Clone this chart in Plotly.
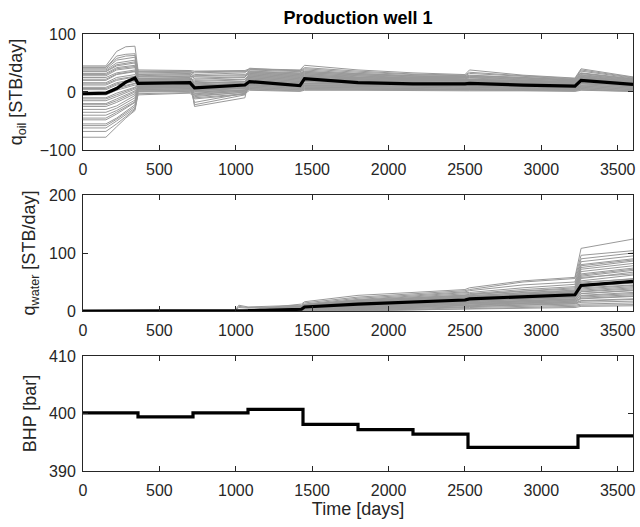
import plotly.graph_objects as go

# ---------------------------------------------------------------------------
# Data: ensemble of production responses for well 1 and the ensemble mean
# ---------------------------------------------------------------------------
days_oil = [0, 150, 220, 280, 340, 360, 700, 730, 1060, 1090, 1420, 1450,
            1800, 2160, 2500, 2530, 2880, 3220, 3260, 3600]

oil_members = [
    [45, 45, 70, 78, 79, 38, 37, 36, 37, 40, 38, 46, 38, 33, 30, 38, 29, 24, 40, 26],
    [42, 42, 62, 65, 66, 35, 35, 30, 33, 41, 36, 40, 34, 30, 28, 32, 27, 22, 36, 24],
    [40, 40, 55, 58, 60, 33, 34, 22, 25, 38, 35, 38, 32, 28, 27, 29, 25, 21, 33, 23],
    [38, 38, 50, 53, 55, 30, 32, 35, 36, 36, 33, 36, 30, 27, 26, 27, 24, 20, 32, 22],
    [35, 35, 45, 48, 50, 28, 30, 10, 14, 34, 31, 34, 28, 25, 24, 25, 22, 19, 30, 21],
    [32, 32, 42, 44, 46, 26, 27, 26, 28, 32, 29, 32, 26, 24, 22, 23, 21, 18, 28, 20],
    [28, 28, 38, 40, 42, 24, 25, 15, 18, 30, 27, 30, 25, 22, 21, 22, 19, 16, 26, 19],
    [25, 25, 33, 36, 38, 22, 23, -25, -10, 28, 25, 28, 23, 21, 20, 21, 18, 15, 25, 18],
    [20, 20, 30, 33, 35, 20, 21, 12, 15, 26, 23, 26, 22, 20, 19, 20, 17, 14, 24, 17],
    [16, 16, 25, 28, 30, 18, 19, 5, 9, 24, 21, 24, 20, 19, 18, 19, 16, 13, 22, 16],
    [12, 12, 20, 23, 26, 17, 18, 16, 18, 22, 19, 22, 19, 17, 16, 17, 15, 12, 21, 15],
    [8, 8, 16, 19, 22, 15, 16, -22, -5, 20, 17, 20, 17, 16, 15, 16, 14, 11, 19, 14],
    [4, 4, 12, 15, 18, 14, 15, 3, 7, 18, 15, 18, 16, 15, 14, 14, 13, 10, 18, 13],
    [0, 0, 8, 12, 15, 12, 13, 8, 11, 16, 13, 17, 15, 14, 13, 13, 12, 9, 17, 12],
    [-5, -5, 3, 8, 12, 11, 12, -5, 2, 15, 12, 15, 14, 13, 12, 12, 11, 8, 15, 11],
    [-10, -10, -2, 3, 8, 10, 11, 2, 6, 13, 11, 14, 13, 12, 11, 11, 10, 7, 14, 10],
    [-15, -15, -8, -2, 5, 9, 10, -18, -2, 12, 10, 12, 12, 11, 10, 10, 9, 6, 12, 9],
    [-20, -20, -12, -5, 2, 8, 9, 6, 9, 11, 9, 11, 11, 10, 9, 9, 8, 6, 11, 8],
    [-25, -25, -18, -10, -3, 7, 8, -2, 3, 10, 8, 10, 10, 9, 8, 8, 7, 5, 10, 7],
    [-30, -30, -24, -15, -6, 6, 7, 1, 4, 9, 7, 9, 9, 8, 7, 7, 6, 5, 9, 6],
    [-35, -35, -28, -19, -10, 5, 6, -8, 0, 8, 6, 8, 8, 7, 6, 6, 5, 4, 8, 5],
    [-40, -40, -32, -23, -14, 4, 5, 0, 3, 7, 5, 7, 7, 6, 5, 5, 5, 4, 7, 4],
    [-48, -48, -38, -28, -18, 2, 3, -3, 1, 6, 4, 6, 6, 5, 4, 4, 4, 3, 6, 3],
    [-55, -55, -45, -33, -22, 0, 1, -6, -1, 5, 3, 5, 5, 4, 4, 4, 3, 3, 5, 2],
    [-62, -62, -50, -39, -28, -3, -1, 4, 6, 4, 2, 4, 4, 3, 3, 3, 3, 2, 4, 1],
    [-78, -78, -60, -45, -32, -5, -2, -10, -3, 3, 1, 3, 3, 2, 2, 2, 2, 1, 3, 1],
    [43, 43, 58, 62, 63, 36, 36, 33, 35, 39, 37, 42, 36, 31, 29, 34, 28, 23, 38, 25],
    [36, 36, 47, 50, 52, 31, 31, 28, 30, 35, 32, 35, 31, 28, 27, 28, 25, 21, 32, 22],
    [30, 30, 40, 42, 44, 27, 28, 24, 26, 33, 30, 33, 29, 26, 25, 26, 23, 19, 29, 21],
    [22, 22, 31, 34, 36, 23, 24, 20, 22, 31, 28, 31, 27, 24, 23, 24, 21, 17, 27, 19],
    [14, 14, 22, 25, 27, 21, 22, 18, 21, 29, 26, 29, 25, 23, 22, 22, 20, 16, 26, 18],
    [6, 6, 14, 17, 20, 19, 20, 14, 17, 27, 24, 27, 24, 22, 21, 21, 19, 15, 24, 17],
    [-2, -2, 5, 10, 14, 16, 17, 12, 15, 25, 22, 25, 23, 21, 20, 20, 18, 14, 23, 16],
    [-12, -12, -5, 1, 7, 13, 14, 10, 13, 23, 20, 23, 21, 19, 18, 18, 17, 13, 21, 15],
    [-22, -22, -15, -7, 0, 10, 11, 7, 10, 21, 18, 21, 19, 18, 17, 17, 16, 12, 20, 14],
    [-45, -45, -35, -26, -17, 3, 4, -12, -4, 19, 16, 19, 18, 17, 16, 16, 15, 11, 19, 13],
    [-68, -68, -55, -42, -30, 1, 2, 5, 8, 14, 12, 14, 14, 13, 12, 12, 11, 9, 16, 11],
    [-58, -58, -47, -36, -25, 8, 9, 4, 7, 12, 10, 12, 12, 12, 11, 11, 10, 8, 14, 10],
]
oil_mean = [-3, -2, 6, 17, 24, 15, 16, 7, 12, 18, 11, 23, 16, 14, 14, 15, 12, 10, 20, 13]

days_water = [0, 990, 1020, 1080, 1430, 1450, 1800, 2160, 2500, 2530,
              2880, 3220, 3260, 3600]

water_members = [
    [0, 0, 0, 2, 12, 16, 27, 32, 37, 40, 52, 58, 108, 124],
    [0, 0, 10, 7, 10, 14, 24, 30, 35, 37, 50, 56, 96, 104],
    [0, 0, 0, 1, 9, 12, 22, 28, 33, 35, 45, 50, 90, 100],
    [0, 0, 0, 0, 8, 11, 20, 26, 31, 32, 40, 46, 85, 95],
    [0, 0, 6, 5, 7, 10, 19, 24, 29, 30, 37, 42, 80, 90],
    [0, 0, 0, 0, 6, 9, 18, 23, 27, 28, 34, 38, 75, 86],
    [0, 0, 0, 0, 5, 8, 16, 21, 25, 26, 32, 36, 72, 82],
    [0, 0, 0, 0, 5, 8, 15, 20, 24, 25, 30, 34, 68, 78],
    [0, 0, 0, 0, 4, 7, 14, 19, 23, 24, 28, 32, 64, 74],
    [0, 0, 0, 0, 4, 7, 13, 18, 22, 23, 27, 30, 60, 70],
    [0, 0, 0, 0, 3, 6, 12, 17, 21, 22, 26, 29, 56, 67],
    [0, 0, 0, 0, 3, 6, 12, 16, 20, 21, 25, 28, 52, 62],
    [0, 0, 0, 0, 2, 5, 11, 15, 19, 20, 24, 27, 48, 56],
    [0, 0, 0, 0, 2, 5, 10, 14, 18, 19, 23, 26, 45, 52],
    [0, 0, 0, 0, 2, 4, 9, 13, 17, 18, 22, 25, 42, 48],
    [0, 0, 0, 0, 1, 4, 9, 13, 16, 17, 21, 24, 40, 45],
    [0, 0, 0, 0, 1, 3, 8, 12, 15, 16, 20, 23, 36, 42],
    [0, 0, 0, 0, 1, 3, 7, 11, 14, 15, 18, 21, 33, 38],
    [0, 0, 0, 0, 0, 2, 6, 10, 13, 14, 17, 20, 30, 35],
    [0, 0, 0, 0, 0, 2, 5, 9, 12, 13, 16, 18, 27, 32],
    [0, 0, 0, 0, 0, 1, 4, 8, 11, 12, 14, 16, 24, 28],
    [0, 0, 0, 0, 0, 1, 4, 7, 10, 11, 13, 15, 21, 25],
    [0, 0, 0, 0, 0, 0, 3, 6, 9, 10, 12, 14, 18, 21],
    [0, 0, 0, 0, 0, 0, 2, 5, 8, 8, 10, 12, 15, 17],
    [0, 0, 0, 0, 0, 0, 1, 3, 6, 6, 8, 10, 12, 14],
    [0, 0, 0, 0, 0, 0, 0, 2, 4, 4, 6, 8, 10, 11],
    [0, 0, 0, 0, 6, 9, 17, 22, 26, 27, 31, 35, 78, 88],
    [0, 0, 0, 0, 4, 7, 15, 20, 24, 25, 29, 33, 58, 64],
    [0, 0, 0, 0, 3, 6, 13, 18, 22, 23, 27, 31, 50, 55],
    [0, 0, 0, 0, 3, 5, 11, 16, 20, 21, 24, 28, 46, 50],
    [0, 0, 0, 0, 2, 4, 10, 14, 18, 19, 22, 25, 38, 44],
    [0, 0, 0, 0, 1, 3, 8, 12, 16, 17, 20, 23, 34, 40],
    [0, 0, 0, 0, 1, 2, 7, 10, 14, 15, 18, 21, 30, 36],
    [0, 0, 0, 0, 0, 1, 5, 9, 12, 13, 16, 19, 26, 30],
    [0, 0, 0, 0, 0, 1, 3, 7, 10, 11, 14, 17, 22, 26],
    [0, 0, 0, 0, 0, 0, 2, 4, 7, 8, 11, 13, 17, 20],
    [0, 0, 8, 6, 8, 11, 18, 22, 27, 29, 34, 40, 62, 72],
    [0, 0, 0, 0, 0, 0, 1, 2, 3, 4, 5, 6, 8, 9],
]
water_mean = [0, 0, 0, 0.5, 3, 7, 12, 16, 19, 21, 24, 28, 44, 51]

bhp_days = [0, 360, 720, 1080, 1440, 1800, 2160, 2520, 2880, 3240, 3600]
bhp_values = [400.1, 399.4, 400.1, 400.7, 398.1, 397.2, 396.4, 394.1, 394.1, 396.1, 396.1]

# ---------------------------------------------------------------------------
# Styling
# ---------------------------------------------------------------------------
FONT = "Liberation Sans, Arial, Helvetica, sans-serif"
AXIS_COLOR = "rgb(38,38,38)"
ENSEMBLE_COLOR = "rgb(153,153,153)"
TICK_SIZE = 16
LABEL_SIZE = 18

fig = go.Figure()

for member in oil_members:
    fig.add_trace(go.Scatter(x=days_oil, y=member, mode="lines",
                             line=dict(color=ENSEMBLE_COLOR, width=1),
                             xaxis="x", yaxis="y", hoverinfo="skip"))
fig.add_trace(go.Scatter(x=days_oil, y=oil_mean, mode="lines",
                         line=dict(color="black", width=3.2),
                         xaxis="x", yaxis="y"))

for member in water_members:
    fig.add_trace(go.Scatter(x=days_water, y=member, mode="lines",
                             line=dict(color=ENSEMBLE_COLOR, width=1),
                             xaxis="x2", yaxis="y2", hoverinfo="skip"))
fig.add_trace(go.Scatter(x=days_water, y=water_mean, mode="lines",
                         line=dict(color="black", width=3.2),
                         xaxis="x2", yaxis="y2"))

fig.add_trace(go.Scatter(x=bhp_days, y=bhp_values, mode="lines",
                         line=dict(color="black", width=3.2, shape="hv"),
                         xaxis="x3", yaxis="y3"))


def x_axis(anchor, axis_title=None):
    ax = dict(anchor=anchor, domain=[0, 1], range=[0, 3600], dtick=500, tick0=0,
              showgrid=False, zeroline=False, showline=True, mirror="ticks",
              linecolor=AXIS_COLOR, linewidth=1, ticks="inside", ticklen=5,
              tickcolor=AXIS_COLOR,
              tickfont=dict(family=FONT, size=TICK_SIZE, color=AXIS_COLOR),
              ticklabelstandoff=5)
    if axis_title:
        ax["title"] = dict(text=axis_title,
                           font=dict(family=FONT, size=LABEL_SIZE, color=AXIS_COLOR),
                           standoff=0)
    return ax


def y_axis(anchor, domain, yrange, dtick, title, standoff):
    return dict(anchor=anchor, domain=domain, range=yrange, dtick=dtick, tick0=yrange[0],
                showgrid=False, zeroline=False, showline=True, mirror="ticks",
                linecolor=AXIS_COLOR, linewidth=1, ticks="inside", ticklen=5,
                tickcolor=AXIS_COLOR,
                tickfont=dict(family=FONT, size=TICK_SIZE, color=AXIS_COLOR),
                ticklabelstandoff=3,
                title=dict(text=title,
                           font=dict(family=FONT, size=LABEL_SIZE, color=AXIS_COLOR),
                           standoff=standoff))


fig.update_layout(
    width=640, height=527,
    margin=dict(l=83, r=4, t=34, b=56),
    paper_bgcolor="white", plot_bgcolor="white",
    showlegend=False,
    font=dict(family=FONT, color=AXIS_COLOR),
    title=dict(text="<b>Production well 1</b>", x=0.5, xref="paper",
               y=1 - 18 / 527, yref="container", yanchor="middle", xanchor="center",
               font=dict(family=FONT, size=18, color="black")),
    xaxis=x_axis("y"),
    xaxis2=x_axis("y2"),
    xaxis3=x_axis("y3", "Time [days]"),
    yaxis=y_axis("x", [0.7346, 1.0], [-100, 100], 100, "q<sub>oil</sub> [STB/day]", 12),
    yaxis2=y_axis("x2", [0.3661, 0.6316], [0, 200], 100, "q<sub>water</sub> [STB/day]", 8),
    yaxis3=y_axis("x3", [0.0, 0.2632], [390, 410], 10, "BHP [bar]", 7),
)

fig.write_html("out.html")
